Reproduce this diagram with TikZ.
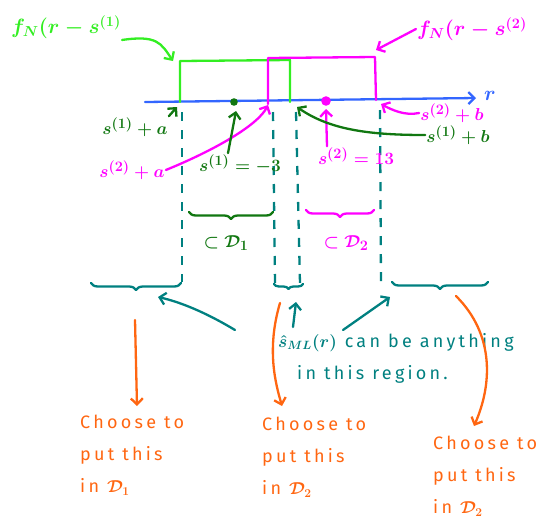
\documentclass[tikz,border=0pt]{standalone}
\usepackage{fontspec}
\setmainfont{Fira Sans}
\newfontfamily\hand[LetterSpace=18]{Fira Sans}
\usetikzlibrary{decorations.pathreplacing,arrows.meta}
\definecolor{bgreen}{HTML}{33EE22}
\definecolor{dgreen}{HTML}{117711}
\definecolor{mag}{HTML}{FF00FF}
\definecolor{rblue}{HTML}{3366FF}
\definecolor{tealc}{HTML}{008080}
\definecolor{orng}{HTML}{FF6611}
\begin{document}
\begin{tikzpicture}[x=1pt,y=-1pt,
  pen/.style={line width=2.3pt,line cap=round,line join=round},
  arr/.style={pen,-{Straight Barb[length=6pt,width=12pt]}},
  dashv/.style={tealc,line width=2.3pt,dash pattern=on 9pt off 9pt},
  brc/.style={pen,decorate,decoration={brace,amplitude=7pt}},
  lab/.style={inner sep=1pt,font=\fontsize{19}{22}\selectfont\boldmath},
  big/.style={inner sep=1pt,font=\fontsize{21}{25}\selectfont\boldmath},
  txt/.style={inner sep=0pt,align=left,font=\hand\fontsize{18}{32}\selectfont\boldmath}]
\useasboundingbox (0,0) rectangle (548,523);
% axis
\coordinate (ax0) at (145,102);
\coordinate (ax1) at (476,98);
\draw[arr,rblue] (ax0) -- (ax1);
\node[big,rblue] (rl) at (490,96) {$r$};
% boxes
\draw[pen,bgreen] (180,102) -- (180,61) -- (290,60) -- (290,102);
\draw[pen,mag] (268,104) -- (268,58) -- (375,57) -- (376,100);
% dots
\fill[dgreen] (234,102) circle (3.8);
\fill[mag] (326,101) circle (4.8);
% dashed verticals
\draw[dashv] (182,112) -- (182,282);
\draw[dashv] (273,112) -- (275,284);
\draw[dashv] (296,112) -- (300,284);
\draw[dashv] (380,110) -- (381,284);
% top labels
\node[big,bgreen] (fA) at (66,27) {$f_N(r - s^{(1)}$};
\node[big,mag] (fB) at (472,29) {$f_N(r - s^{(2)}$};
\coordinate (gA) at (173,61);
\coordinate (gB) at (376,50);
\draw[arr,bgreen] (fA.south east) .. controls +(35,-5) and +(-12,-18) .. (gA);
\draw[arr,mag] (fB.west) -- (gB);
% labels under axis
\node[lab,dgreen] (l1a) at (135,127) {$s^{(1)}+a$};
\coordinate (p1a) at (177,107);
\draw[arr,dgreen] (l1a.north east) -- (p1a);
\node[lab,mag] (l2a) at (132,170) {$s^{(2)}+a$};
\coordinate (p2a) at (268,105);
\draw[arr,mag] (l2a.east) .. controls (215,150) and (258,125) .. (p2a);
\node[lab,dgreen] (s1) at (240,164) {$s^{(1)}=-3$};
\coordinate (ps1) at (236,111);
\draw[arr,dgreen] ([xshift=-12pt]s1.north) -- (ps1);
\node[lab,mag] (s2) at (356,156) {$s^{(2)}=13$};
\coordinate (ps2) at (326,109);
\draw[arr,mag] ([xshift=-29pt]s2.north) -- (ps2);
\node[lab,mag] (l2b) at (452,113) {$s^{(2)}+b$};
\coordinate (p2b) at (381,104);
\draw[arr,mag] (l2b.west) .. controls (405,116) and (392,110) .. (p2b);
\node[lab,dgreen] (l1b) at (458,135) {$s^{(1)}+b$};
\coordinate (p1b) at (297,107);
\draw[arr,dgreen] (l1b.west) .. controls (370,135) and (330,130) .. (p1b);
% braces
\draw[brc,dgreen] (273,212) -- (189,212);
\node[lab,dgreen] (D1) at (226,243) {$\subset\mathcal{D}_1$};
\draw[brc,mag] (374,210) -- (306,210);
\node[lab,mag] (D2) at (346,243) {$\subset\mathcal{D}_2$};
\draw[brc,tealc] (181,283) -- (91,283);
\draw[brc,tealc,decoration={brace,amplitude=5pt}] (303,284) -- (274,284);
\draw[brc,tealc] (488,282) -- (392,282);
% teal text and arrows
\node[txt,tealc,anchor=north west] (t) at (278,333) {$\hat{s}_{ML}(r)$ can be anything\\\hspace*{19pt}in this region.};
\coordinate (q1s) at (235,330);
\coordinate (q1e) at (158,297);
\coordinate (q2s) at (293,327);
\coordinate (q2e) at (296,302);
\coordinate (q3s) at (343,330);
\coordinate (q3e) at (390,297);
\draw[arr,tealc] (q1s) .. controls (205,312) and (180,302) .. (q1e);
\draw[arr,tealc] (q2s) -- (q2e);
\draw[arr,tealc] (q3s) -- (q3e);
% orange texts
\node[txt,orng,anchor=north west] (c1) at (80,415) {Choose to\\put this\\in $\mathcal{D}_1$};
\node[txt,orng,anchor=north west] (c2) at (262,417) {Choose to\\put this\\in $\mathcal{D}_2$};
\node[txt,orng,anchor=north west] (c3) at (433,436) {Choose to\\put this\\in $\mathcal{D}_2$};
\coordinate (o1s) at (135,320);
\coordinate (o1e) at (137,406);
\coordinate (o2s) at (280,303);
\coordinate (o2e) at (282,406);
\coordinate (o3s) at (456,296);
\coordinate (o3e) at (474,426);
\draw[arr,orng] (o1s) -- (o1e);
\draw[arr,orng] (o2s) .. controls (266,350) and (276,385) .. (o2e);
\draw[arr,orng] (o3s) .. controls (495,335) and (492,385) .. (o3e);
\end{tikzpicture}
\end{document}
